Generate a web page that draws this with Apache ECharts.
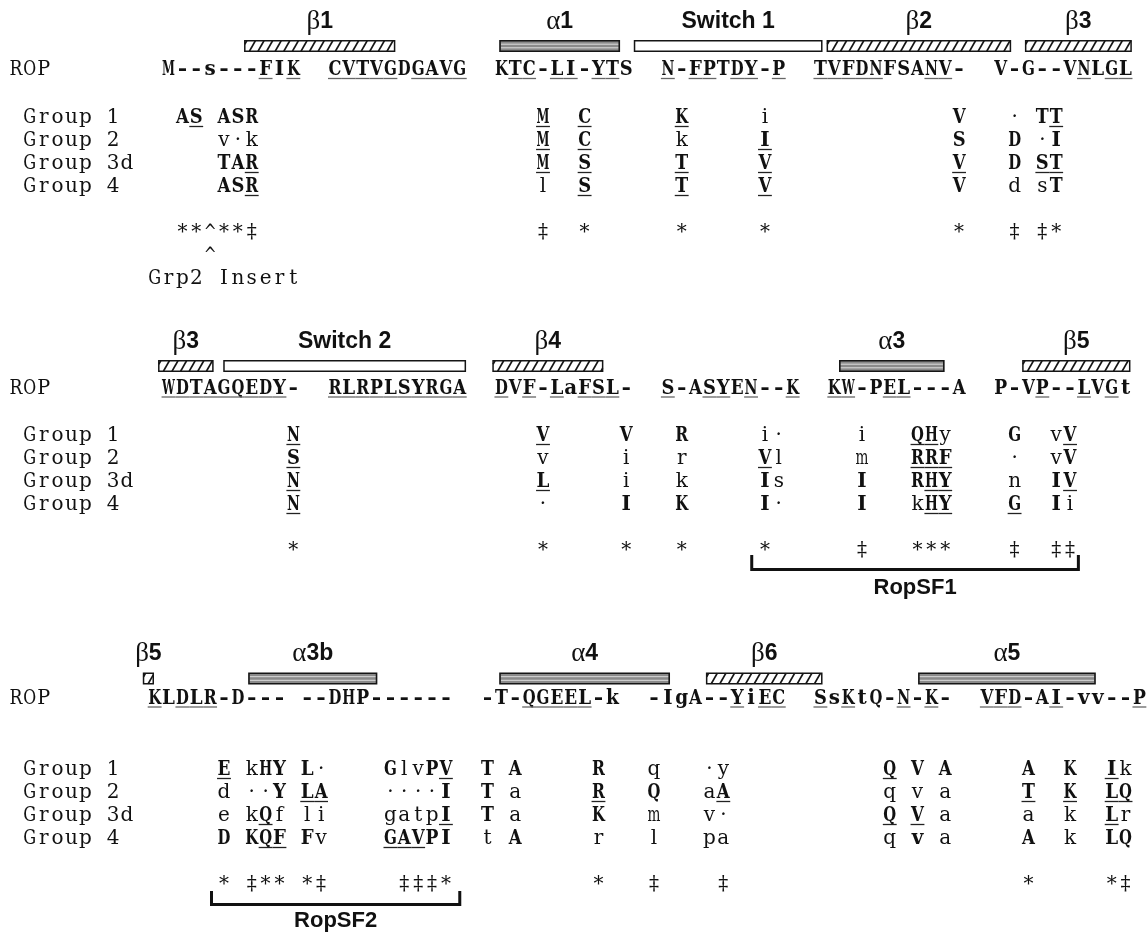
<!DOCTYPE html>
<html>
<head>
<meta charset="utf-8">
<script src="https://cdn.jsdelivr.net/npm/echarts@6/dist/echarts.min.js"></script>
<style>
  html, body { margin: 0; padding: 0; background: #fff; }
  #chart { width: 1147px; height: 933px; }
</style>
</head>
<body>
<div id="chart"></div>
<script>
// ---------------------------------------------------------------------------
// Alignment data. Each row is a list of [alignment column, residues].
// '_' underlines the following residue, '!' sets the following residue bold.
// Upper-case residues in the group rows are bold, lower-case ones are plain;
// the ROP row is bold throughout.
// ---------------------------------------------------------------------------
const rowLabels = ['ROP', 'Group 1', 'Group 2', 'Group 3d', 'Group 4'];

// Block 1
const b1Rop    = [[11, 'M--s---_FI_K'], [23, '_C_V_T_V_GD_G_A_V_G'], [35, 'K_T_C-_L_I-_Y_TS'],
                  [47, '_N-_F_PT_D_Y-_P'], [58, '_T_V_F_D_NFSA_N_V-'], [71, 'V-G--V_NL_G_L']];
const b1Grp1   = [[12, 'A_S'], [15, 'ASR'], [38, '_M'], [41, '_C'], [48, '_K'], [54, 'i'], [68, 'V'], [72, '·'], [74, 'T_T']];
const b1Grp2   = [[15, 'v·k'], [38, '_M'], [41, '_C'], [48, 'k'], [54, '_I'], [68, 'S'], [72, 'D'], [74, '·I']];
const b1Grp3d  = [[15, 'TA_R'], [38, '_M'], [41, '_S'], [48, '_T'], [54, '_V'], [68, '_V'], [72, 'D'], [74, '_S_T']];
const b1Grp4   = [[15, 'AS_R'], [38, 'l'], [41, '_S'], [48, '_T'], [54, '_V'], [68, 'V'], [72, 'd'], [74, 'sT']];
const b1Marks  = [[12, '**^**‡'], [38, '‡'], [41, '*'], [48, '*'], [54, '*'], [68, '*'], [72, '‡'], [74, '‡*']];
const b1Marks2 = [[14, '^']];
const b1Note   = [[10, 'Grp2 Insert']];
const b1Struct = [['strand', 'β1', 17.0, 27.8], ['helix', 'α1', 35.4, 44.0], ['switch', 'Switch 1', 45.1, 58.6],
                  ['strand', 'β2', 59.0, 72.2], ['strand', 'β3', 73.3, 80.9]];

// Block 2
const b2Rop    = [[11, '_W_D_T_A_G_Q_E_D_Y-'], [23, '_R_L_R_P_L_S_Y_R_G_A'], [35, '_DV_F-_La_F_S_L-'],
                  [47, '_S-A_S_YE_N--_K'], [59, '_K_W-P_E_L---A'], [71, 'P-V_P--_LV_Gt']];
const b2Grp1   = [[20, '_N'], [38, '_V'], [44, 'V'], [48, 'R'], [54, 'i·'], [61, 'i'], [65, '_Q_Hy'], [72, 'G'], [75, 'v_V']];
const b2Grp2   = [[20, '_S'], [38, 'v'], [44, 'i'], [48, 'r'], [54, '_Vl'], [61, 'm'], [65, '_R_R_F'], [72, '·'], [75, 'vV']];
const b2Grp3d  = [[20, '_N'], [38, '_L'], [44, 'i'], [48, 'k'], [54, 'Is'], [61, 'I'], [65, 'R_H_Y'], [72, 'n'], [75, 'I_V']];
const b2Grp4   = [[20, '_N'], [38, '·'], [44, 'I'], [48, 'K'], [54, 'I·'], [61, 'I'], [65, 'k_H_Y'], [72, '_G'], [75, 'Ii']];
const b2Marks  = [[20, '*'], [38, '*'], [44, '*'], [48, '*'], [54, '*'], [61, '‡'], [65, '***'], [72, '‡'], [75, '‡‡']];
const b2Struct = [['strand', 'β3', 10.8, 14.7], ['switch', 'Switch 2', 15.5, 32.9], ['strand', 'β4', 34.9, 42.8],
                  ['helix', 'α3', 59.9, 67.4], ['strand', 'β5', 73.1, 80.8]];

// Block 3
const b3Rop    = [[10, '_KL_D_L_R-D---'], [21, '--DHP------'], [34, '-T-_Q_G_E_E_L-k'],
                  [46, '-IgA--_Yi_E_C'], [58, '_Ss_KtQ-_N-_K-'], [70, '_V_F_D-A_I-vv--_P']];
const b3Grp1   = [[15, '_E'], [17, 'kHY'], [21, 'L·'], [27, 'GlvP_V'], [34, 'T'], [36, 'A'], [42, 'R'], [46, 'q'],
                  [50, '·y'], [63, '_Q'], [65, 'V'], [67, 'A'], [73, 'A'], [76, 'K'], [79, '_Ik']];
const b3Grp2   = [[15, 'd'], [17, '··Y'], [21, '_L_A'], [27, '····I'], [34, 'T'], [36, 'a'], [42, '_R'], [46, 'Q'],
                  [50, 'a_A'], [63, 'q'], [65, 'v'], [67, 'a'], [73, '_T'], [76, '_K'], [79, '_L_Q']];
const b3Grp3d  = [[15, 'e'], [17, 'k_Qf'], [21, 'li'], [27, 'gatp_I'], [34, 'T'], [36, 'a'], [42, 'K'], [46, 'm'],
                  [50, 'v·'], [63, '_Q'], [65, '_V'], [67, 'a'], [73, 'a'], [76, 'k'], [79, '_Lr']];
const b3Grp4   = [[15, 'D'], [17, 'K_Q_F'], [21, 'Fv'], [27, '_G_A_VPI'], [34, 't'], [36, 'A'], [42, 'r'], [46, 'l'],
                  [50, 'pa'], [63, 'q'], [65, '!v'], [67, 'a'], [73, 'A'], [76, 'k'], [79, 'LQ']];
const b3Marks  = [[15, '*'], [17, '‡**'], [21, '*‡'], [28, '‡‡‡*'], [42, '*'], [46, '‡'], [51, '‡'], [73, '*'], [79, '*‡']];
const b3Struct = [['strand', 'β5', 9.7, 10.4], ['helix', 'α3b', 17.3, 26.5], ['helix', 'α4', 35.4, 47.6],
                  ['strand', 'β6', 50.3, 58.6], ['helix', 'α5', 65.6, 78.3]];

// Subfamily brackets: [name, block, first column, last column]
const subfamilies = [['RopSF1', 1, 53.55, 77.1], ['RopSF2', 2, 14.6, 32.5]];

// ---------------------------------------------------------------------------
// Layout
// ---------------------------------------------------------------------------
const WIDTH = 1147, HEIGHT = 933;
const PITCH = 13.87;          // one alignment column
const LEFT = 9;               // left edge of column 0
const X_MIN = -LEFT / PITCH;
const X_MAX = X_MIN + WIDTH / PITCH;
const GLYPH_SIZE = 20, GLYPH_FIT = 12.9, DASH_W = 9.5, UL_OFFSET = 8.5;
const BAR_H = 10.5;

const blockRows = [
  { label: 22,  bar: 46,    rop: 70,    groups: [118, 141, 164, 187], marks: 233, marks2: 256, note: 279 },
  { label: 342, bar: 366,   rop: 388.5, groups: [436, 459, 482, 505], marks: 551, bracketTop: 555, bracketLine: 569.5, bracketLabel: 588 },
  { label: 654, bar: 678.5, rop: 698.5, groups: [770, 793, 816, 839], marks: 885, bracketTop: 891, bracketLine: 904.5, bracketLabel: 921 }
];

const blocks = [
  { rop: b1Rop, groups: [b1Grp1, b1Grp2, b1Grp3d, b1Grp4], marks: b1Marks, marks2: b1Marks2, note: b1Note, struct: b1Struct },
  { rop: b2Rop, groups: [b2Grp1, b2Grp2, b2Grp3d, b2Grp4], marks: b2Marks, struct: b2Struct },
  { rop: b3Rop, groups: [b3Grp1, b3Grp2, b3Grp3d, b3Grp4], marks: b3Marks, struct: b3Struct }
];

// ---------------------------------------------------------------------------
// Build glyph list (one item per character cell)
// ---------------------------------------------------------------------------
const measureCtx = document.createElement('canvas').getContext('2d');
function fitScale(ch, bold) {
  measureCtx.font = (bold ? 'bold ' : '') + GLYPH_SIZE + 'px "DejaVu Serif"';
  const w = measureCtx.measureText(ch).width;
  if (ch === '-') return DASH_W / w;
  return w > GLYPH_FIT ? GLYPH_FIT / w : 1;
}

const glyphs = [];
const glyphData = [];
function pushRow(frags, y, mode) {
  frags.forEach(([col, text]) => {
    let c = col, ul = false, force = false;
    for (const ch of text) {
      if (ch === '_') { ul = true; continue; }
      if (ch === '!') { force = true; continue; }
      if (ch !== ' ') {
        const bold = mode === 'rop' || force || (mode === 'group' && /[A-Z]/.test(ch));
        glyphs.push({ ch, bold, ul, rop: mode === 'rop', sx: fitScale(ch, bold) });
        glyphData.push([c + 0.5, y]);
      }
      c++; ul = false; force = false;
    }
  });
}

const structures = [];
const structData = [];
blocks.forEach((b, i) => {
  const rows = blockRows[i];
  pushRow([[0, rowLabels[0]]], rows.rop, 'plain');
  pushRow(b.rop, rows.rop, 'rop');
  b.groups.forEach((g, k) => {
    pushRow([[1, rowLabels[k + 1]]], rows.groups[k], 'plain');
    pushRow(g, rows.groups[k], 'group');
  });
  pushRow(b.marks, rows.marks, 'plain');
  if (b.marks2) pushRow(b.marks2, rows.marks2, 'plain');
  if (b.note) pushRow(b.note, rows.note, 'plain');
  b.struct.forEach(([kind, label, c0, c1]) => {
    structures.push({ kind, label });
    structData.push([c0, c1, rows.bar, rows.label]);
  });
});

const bracketData = subfamilies.map(([name, blk, c0, c1]) => {
  const r = blockRows[blk];
  return [c0, c1, r.bracketTop, r.bracketLine, r.bracketLabel];
});

// ---------------------------------------------------------------------------
// Renderers
// ---------------------------------------------------------------------------
function renderGlyph(params, api) {
  const g = glyphs[params.dataIndex];
  const p = api.coord([api.value(0), api.value(1)]);
  const cell = api.size([1, 0])[0];
  const children = [{
    type: 'text', x: p[0], y: p[1], scaleX: g.sx,
    style: {
      text: g.ch, fontFamily: 'DejaVu Serif', fontSize: GLYPH_SIZE,
      fontWeight: g.bold ? 'bold' : 'normal', fill: '#111',
      align: 'center', verticalAlign: 'middle'
    }
  }];
  if (g.ul) {
    children.push({
      type: 'line',
      shape: { x1: p[0] - cell / 2, y1: p[1] + UL_OFFSET, x2: p[0] + cell / 2, y2: p[1] + UL_OFFSET },
      style: { stroke: g.rop ? '#666' : '#222', lineWidth: 1.3 }
    });
  }
  return { type: 'group', children };
}

function renderStruct(params, api) {
  const s = structures[params.dataIndex];
  const a = api.coord([api.value(0), api.value(2)]);
  const b = api.coord([api.value(1), api.value(2)]);
  const lp = api.coord([(api.value(0) + api.value(1)) / 2, api.value(3)]);
  const x0 = a[0], x1 = b[0], yc = a[1];
  const yt = yc - BAR_H / 2, yb = yc + BAR_H / 2;
  const kids = [];
  if (s.kind === 'helix') {
    kids.push({ type: 'rect', shape: { x: x0, y: yt, width: x1 - x0, height: BAR_H },
      style: { fill: '#8a8a8a', stroke: '#151515', lineWidth: 1.6 } });
    [-1.8, 1.8].forEach(d => kids.push({ type: 'line',
      shape: { x1: x0 + 1, y1: yc + d, x2: x1 - 1, y2: yc + d },
      style: { stroke: '#e6e6e6', lineWidth: 0.9 } }));
  } else if (s.kind === 'switch') {
    kids.push({ type: 'rect', shape: { x: x0, y: yt, width: x1 - x0, height: BAR_H },
      style: { fill: '#fff', stroke: '#151515', lineWidth: 1.5 } });
  } else {
    kids.push({ type: 'rect', shape: { x: x0, y: yt, width: x1 - x0, height: BAR_H },
      style: { fill: '#fff', stroke: 'none' } });
    const slant = 6, step = 8.6;
    for (let t = x0 - slant + 2; t < x1; t += step) {
      let xa = t, ya = yb, xb = t + slant, yb2 = yt;
      if (xa < x0) { ya = yb - (x0 - t) / slant * BAR_H; xa = x0; }
      if (xb > x1) { yb2 = yb - (x1 - t) / slant * BAR_H; xb = x1; }
      if (xb > xa) kids.push({ type: 'line', shape: { x1: xa, y1: ya, x2: xb, y2: yb2 },
        style: { stroke: '#151515', lineWidth: 1.6 } });
    }
    kids.push({ type: 'rect', shape: { x: x0, y: yt, width: x1 - x0, height: BAR_H },
      style: { fill: 'none', stroke: '#151515', lineWidth: 1.5 } });
  }
  const greek = /^[αβ]/.test(s.label);
  kids.push({
    type: 'text', x: lp[0], y: lp[1],
    style: {
      text: greek ? '{g|' + s.label[0] + '}{n|' + s.label.slice(1) + '}' : '{n|' + s.label + '}',
      align: 'center', verticalAlign: 'middle',
      rich: {
        g: { fontFamily: 'Liberation Serif', fontSize: 27, fill: '#111' },
        n: { fontFamily: 'Liberation Sans', fontWeight: 'bold', fontSize: 23, fill: '#111' }
      }
    }
  });
  return { type: 'group', children: kids };
}

function renderBracket(params, api) {
  const name = subfamilies[params.dataIndex][0];
  const lt = api.coord([api.value(0), api.value(2)]);
  const rb = api.coord([api.value(1), api.value(3)]);
  const lab = api.coord([(api.value(0) + api.value(1)) / 2, api.value(4)]);
  return {
    type: 'group',
    children: [
      { type: 'polyline',
        shape: { points: [[lt[0], lt[1]], [lt[0], rb[1]], [rb[0], rb[1]], [rb[0], lt[1]]] },
        style: { fill: 'none', stroke: '#111', lineWidth: 3 } },
      { type: 'text', x: lab[0], y: lab[1],
        style: { text: name, fontFamily: 'Liberation Sans', fontWeight: 'bold', fontSize: 22,
                 fill: '#111', align: 'center', verticalAlign: 'middle' } }
    ]
  };
}

// ---------------------------------------------------------------------------
// Chart
// ---------------------------------------------------------------------------
const chart = echarts.init(document.getElementById('chart'), null, { renderer: 'canvas' });
chart.setOption({
  animation: false,
  backgroundColor: '#fff',
  grid: { left: 0, right: 0, top: 0, bottom: 0 },
  xAxis: { type: 'value', min: X_MIN, max: X_MAX, show: false },
  yAxis: { type: 'value', min: 0, max: HEIGHT, inverse: true, show: false },
  series: [
    { type: 'custom', name: 'structure', coordinateSystem: 'cartesian2d', silent: true, clip: false,
      renderItem: renderStruct, encode: { x: [0, 1], y: [2, 3] }, data: structData },
    { type: 'custom', name: 'residues', coordinateSystem: 'cartesian2d', silent: true, clip: false,
      renderItem: renderGlyph, encode: { x: 0, y: 1 }, data: glyphData },
    { type: 'custom', name: 'subfamilies', coordinateSystem: 'cartesian2d', silent: true, clip: false,
      renderItem: renderBracket, encode: { x: [0, 1], y: [2, 3, 4] }, data: bracketData }
  ]
});
</script>
</body>
</html>
